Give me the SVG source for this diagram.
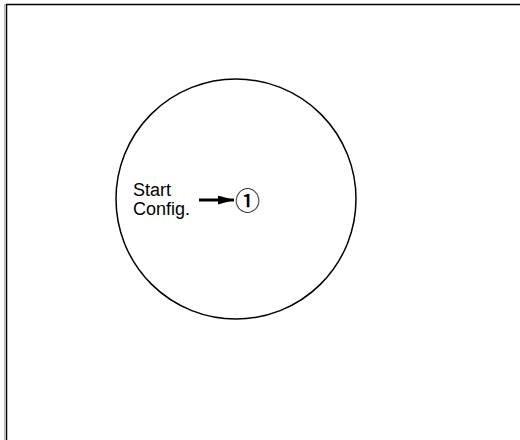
<svg xmlns="http://www.w3.org/2000/svg" width="520" height="440" viewBox="0 0 520 440">
<style>
text{font-family:"Liberation Sans",Arial,sans-serif;fill:#000}
.lbl{font-size:18px}
.num{font-family:"Noto Sans CJK JP","Noto Sans CJK SC",sans-serif;font-size:25px;font-weight:500}
</style>
<defs>
<marker id="ah" markerWidth="16" markerHeight="9" refX="16" refY="4.5" orient="auto" markerUnits="userSpaceOnUse">
<path d="M0,0 L16,4.5 L0,9 Z" fill="#000"/>
</marker>
</defs>
<rect width="520" height="440" fill="#fff"/>
<g id="frame">
<line x1="4.5" y1="4" x2="4.5" y2="440" stroke="#bbb" stroke-width="1"/>
<path d="M6.5,440 V4.5 H520" fill="none" stroke="#000" stroke-width="1.5"/>
</g>
<g id="state-space">
<circle cx="236" cy="199" r="120" fill="none" stroke="#000" stroke-width="1.5"/>
</g>
<g id="start">
<text class="lbl" x="133" y="196">Start</text>
<text class="lbl" x="133" y="215">Config.</text>
</g>
<g id="node-1">
<text class="num" x="247.5" y="210" text-anchor="middle">①</text>
</g>
<g id="connectors">
<line x1="199" y1="200" x2="234" y2="200" stroke="#000" stroke-width="3" marker-end="url(#ah)"/>
</g>
</svg>
